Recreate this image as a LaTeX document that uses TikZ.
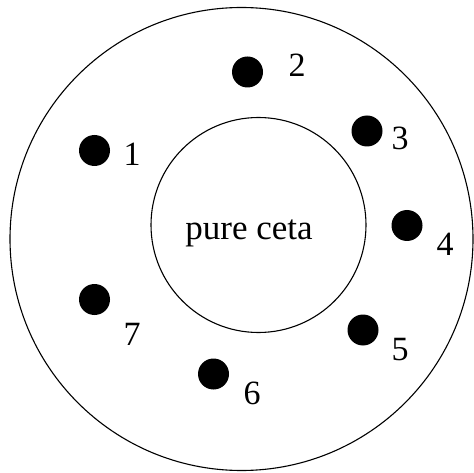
\documentclass[tikz,border=0pt]{standalone}
\usepackage{fontspec}
\setmainfont{Liberation Serif}
\begin{document}
\begin{tikzpicture}[x=1pt,y=-1pt,
  dot/.style={circle, fill=black, inner sep=0pt, minimum size=31pt},
  num/.style={anchor=base, inner sep=0pt, font=\fontsize{34}{40}\selectfont}]
  \useasboundingbox (0,0) rectangle (474,473);
  % Outer ring and inner core
  \draw[line width=1.1pt] (241.5,239) circle (231.5pt);
  \draw[line width=1.1pt] (258.5,225) circle (107.5pt);
  \node[num, font=\fontsize{35}{40}\selectfont] (core) at (249,240) {pure ceta};

  % Dots
  \node[dot] (d1) at (94.5,150.5) {};
  \node[dot] (d2) at (247.5,72) {};
  \node[dot] (d3) at (367,131) {};
  \node[dot] (d4) at (407,225.5) {};
  \node[dot] (d5) at (363,330) {};
  \node[dot] (d6) at (213.5,374) {};
  \node[dot] (d7) at (94.5,299.5) {};

  % Numbers
  \node[num] (l1) at (132,166) {1};
  \node[num] (l2) at (297,77) {2};
  \node[num] (l3) at (400,150) {3};
  \node[num] (l4) at (445,255) {4};
  \node[num] (l5) at (400,360) {5};
  \node[num] (l6) at (252,404) {6};
  \node[num] (l7) at (132,345) {7};
\end{tikzpicture}
\end{document}
